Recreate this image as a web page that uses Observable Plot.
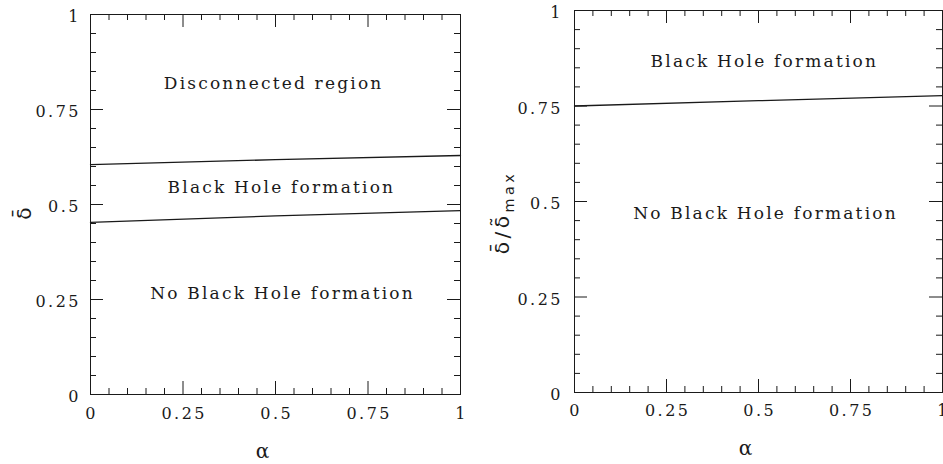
<!DOCTYPE html>
<html><head><meta charset="utf-8">
<script src="https://cdn.jsdelivr.net/npm/d3@7"></script>
<script src="https://cdn.jsdelivr.net/npm/@observablehq/plot@0.6"></script>
<style>
html,body{margin:0;padding:0;background:#fff;}
#wrap{position:relative;width:943px;height:464px;overflow:hidden;background:#fff;}
#left{position:absolute;left:0;top:0;}
#right{position:absolute;left:470px;top:0;}
</style></head><body><div id="wrap"><div id="left"></div><div id="right"></div></div>
<script>
const majorTicks = [0, 0.25, 0.5, 0.75, 1];
const minorTicks = [0.05, 0.1, 0.15, 0.2, 0.3, 0.35, 0.4, 0.45, 0.55, 0.6, 0.65, 0.7, 0.8, 0.85, 0.9, 0.95];
const tickText = ["0", "0.25", "0.5", "0.75", "1"];

const alphaLeft = [0, 0.5, 1];
const upperBoundary = [0.605, 0.618, 0.629];
const lowerBoundary = [0.453, 0.470, 0.484];

const alphaRight = [0, 0.5, 1];
const ratioBoundary = [0.750, 0.764, 0.777];

const leftLabels = ["Disconnected region", "Black Hole formation", "No Black Hole formation"];
const leftLabelAlpha = [0.495, 0.516, 0.519];
const leftLabelDelta = [0.818, 0.545, 0.266];

const rightLabels = ["Black Hole formation", "No Black Hole formation"];
const rightLabelAlpha = [0.516, 0.519];
const rightLabelDelta = [0.866, 0.469];

const xTitle = "α";
const yTitleLeft = "δ\u0304";
const yTitleRight = "δ\u0304/δ\u0303";
const yTitleRightSub = "max";

const ink = "#1a1a1a";

function panel(o) {
  const height = 464;
  const pw = o.width - o.marginLeft - o.marginRight;
  const ph = height - o.marginTop - o.marginBottom;
  const ticks = (vals, len) => [
    Plot.tickX(vals, {x: d => d, insetTop: ph - len, stroke: ink}),
    Plot.tickX(vals, {x: d => d, insetBottom: ph - len, stroke: ink}),
    Plot.tickY(vals, {y: d => d, insetRight: pw - len, stroke: ink}),
    Plot.tickY(vals, {y: d => d, insetLeft: pw - len, stroke: ink})
  ];
  const fmt = d => tickText[majorTicks.indexOf(d)];
  const svg = Plot.plot({
    width: o.width, height,
    marginLeft: o.marginLeft, marginRight: o.marginRight,
    marginTop: o.marginTop, marginBottom: o.marginBottom,
    x: {domain: [0, 1]},
    y: {domain: [0, 1]},
    style: {fontFamily: "DejaVu Serif", fontSize: "16px", color: ink, background: "transparent", overflow: "visible"},
    marks: [
      Plot.frame({stroke: ink}),
      ...ticks(majorTicks, 13),
      ...ticks(minorTicks, 6),
      Plot.axisX(majorTicks, {tickSize: 0, tickPadding: o.xTickPad, tickFormat: fmt, dx: 1.2, fontSize: 16, fill: ink, label: null}),
      Plot.axisY(majorTicks, {tickSize: 0, tickPadding: o.yTickPad, tickFormat: fmt, dy: 2.5, fontSize: 16, fill: ink, label: null}),
      ...o.lines.map(l => Plot.line(l.a.map((a, i) => ({a, v: l.v[i]})), {x: "a", y: "v", stroke: ink, strokeWidth: 1.3})),
      Plot.text(o.labels.t.map((t, i) => ({t, a: o.labels.a[i], v: o.labels.v[i]})), {x: "a", y: "v", text: "t", fontSize: 17, fill: ink}),
      Plot.text([xTitle], {text: d => d, frameAnchor: "bottom", textAnchor: "middle", lineAnchor: "middle", dx: o.xTitleDx, dy: o.xTitleDy, fontSize: 20, fill: ink}),
      Plot.text([o.yTitle], {text: d => d, frameAnchor: "left", textAnchor: "middle", lineAnchor: "middle", rotate: -90, dx: o.yTitleDx, dy: o.yTitleDy, fontSize: o.yTitleSize, fontFamily: "DejaVu Sans", fill: ink})
    ]
  });
  const s = d3.select(svg);
  s.selectAll('g[aria-label="x-axis tick label"] text, g[aria-label="y-axis tick label"] text').style("letter-spacing", "2.5px");
  s.selectAll("text").filter(function() { return o.labels.t.includes(this.textContent); }).style("letter-spacing", "2.2px");
  return svg;
}

const left = panel({
  width: 470, marginLeft: 90, marginRight: 10, marginTop: 14, marginBottom: 70,
  lines: [{a: alphaLeft, v: upperBoundary}, {a: alphaLeft, v: lowerBoundary}],
  labels: {t: leftLabels, a: leftLabelAlpha, v: leftLabelDelta},
  yTitle: yTitleLeft, yTitleSize: 20, yTitleDx: -66, yTitleDy: 9,
  xTitleDx: -13, xTitleDy: 57, yTickPad: 9.5, xTickPad: 13.5
});
document.getElementById("left").appendChild(left);

const right = panel({
  width: 473, marginLeft: 104, marginRight: 1, marginTop: 10, marginBottom: 72,
  lines: [{a: alphaRight, v: ratioBoundary}],
  labels: {t: rightLabels, a: rightLabelAlpha, v: rightLabelDelta},
  yTitle: yTitleRight, yTitleSize: 20, yTitleDx: -72, yTitleDy: 11,
  xTitleDx: -13, xTitleDy: 56, yTickPad: 11.5, xTickPad: 12.5
});
d3.select(right).selectAll("text").filter(function() { return this.textContent === yTitleRight; })
  .style("letter-spacing", "3.5px")
  .append("tspan").attr("dy", "0.35em").attr("font-size", "0.72em").text(yTitleRightSub);
document.getElementById("right").appendChild(right);
</script>
</body></html>
